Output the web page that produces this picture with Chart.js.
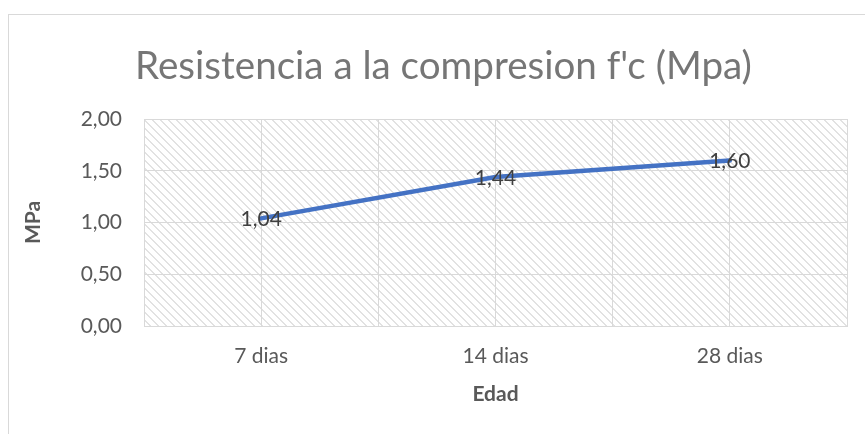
<!DOCTYPE html>
<html>
<head>
<meta charset="utf-8">
<script src="https://cdn.jsdelivr.net/npm/chart.js@4/dist/chart.umd.min.js"></script>
<style>
html,body{margin:0;padding:0;background:#fff;}
#wrap{width:865px;height:434px;position:relative;}
</style>
</head>
<body>
<div id="wrap"><canvas id="c" width="865" height="434"></canvas></div>
<script>
const categories = ['7 dias', '14 dias', '28 dias'];
const values = [1.04, 1.44, 1.60];
const yTicks = [0, 0.5, 1.0, 1.5, 2.0];
const titleText = "Resistencia a la compresion f'c (Mpa)";
const xTitle = 'Edad';
const yTitle = 'MPa';

const FONT = 'Lato, "Open Sans", sans-serif';
const fmt = v => v.toFixed(2).replace('.', ',');

function makePattern(ctx) {
  const t = document.createElement('canvas');
  t.width = 8; t.height = 8;
  const g = t.getContext('2d');
  g.fillStyle = '#ffffff';
  g.fillRect(0, 0, 8, 8);
  g.fillStyle = '#e2e2e2';
  for (let i = 0; i < 8; i++) {
    g.fillRect(i, i, 1, 1);
    g.fillRect((i + 1) % 8, i, 1, 1);
  }
  return ctx.createPattern(t, 'repeat');
}

const bgPlugin = {
  id: 'bg',
  beforeDraw(chart) {
    const {ctx, chartArea: a} = chart;
    ctx.save();
    ctx.fillStyle = '#fff';
    ctx.fillRect(0, 0, chart.width, chart.height);
    ctx.strokeStyle = '#d9d9d9';
    ctx.lineWidth = 1;
    ctx.strokeRect(8.5, 14.5, 1000, 1000);
    ctx.fillStyle = makePattern(ctx);
    ctx.fillRect(a.left, a.top, a.right - a.left, a.bottom - a.top);
    ctx.restore();
  }
};

const titlePlugin = {
  id: 'ctitle',
  afterDraw(chart) {
    const {ctx} = chart;
    ctx.save();
    let size = 37;
    ctx.font = '400 ' + size + 'px ' + FONT;
    const w = ctx.measureText(titleText).width;
    size = size * 617 / w;
    ctx.font = '400 ' + size.toFixed(2) + 'px ' + FONT;
    ctx.fillStyle = '#767676';
    ctx.textAlign = 'center';
    ctx.textBaseline = 'middle';
    ctx.fillText(titleText, 443.5, 67);
    ctx.restore();
  }
};

const labelPlugin = {
  id: 'dlabels',
  afterDatasetsDraw(chart) {
    const {ctx} = chart;
    const meta = chart.getDatasetMeta(0);
    ctx.save();
    ctx.font = '21px ' + FONT;
    ctx.fillStyle = '#404040';
    ctx.textAlign = 'center';
    ctx.textBaseline = 'middle';
    meta.data.forEach((pt, i) => {
      ctx.fillText(fmt(values[i]), pt.x, pt.y + 1);
    });
    ctx.restore();
  }
};

new Chart(document.getElementById('c'), {
  type: 'line',
  data: {
    datasets: [{
      data: categories.map((c, i) => ({x: i, y: values[i]})),
      borderColor: '#4472C4',
      borderWidth: 4.5,
      pointRadius: 0,
      tension: 0,
      fill: false,
      borderCapStyle: 'round'
    }]
  },
  options: {
    responsive: false,
    animation: false,
    layout: {padding: {left: 0, right: 14, top: 119, bottom: 0}},
    plugins: {
      legend: {display: false},
      tooltip: {enabled: false},
      title: {display: false}
    },
    scales: {
      x: {
        type: 'linear',
        min: -0.5,
        max: 2.5,
        afterBuildTicks(scale) {
          const t = [];
          for (let v = -0.5; v <= 2.5001; v += 0.5) t.push({value: v});
          scale.ticks = t;
        },
        afterFit(scale) { scale.height = 108; },
        ticks: {
          autoSkip: false,
          maxRotation: 0,
          padding: 18,
          color: '#595959',
          font: {family: FONT, size: 21},
          callback: (v) => Number.isInteger(v) ? categories[v] : ''
        },
        grid: {color: '#d9d9d9', lineWidth: 1, drawTicks: false},
        border: {color: '#d9d9d9'},
        title: {
          display: true,
          text: xTitle,
          color: '#595959',
          font: {family: FONT, size: 21, weight: 'bold'},
          padding: {top: 0, bottom: 27.4}
        }
      },
      y: {
        min: 0,
        max: 2,
        afterBuildTicks(scale) { scale.ticks = yTicks.map(v => ({value: v})); },
        afterFit(scale) { scale.width = 144; },
        ticks: {
          padding: 22,
          color: '#595959',
          font: {family: FONT, size: 21},
          callback: (v) => fmt(v)
        },
        grid: {color: '#d9d9d9', lineWidth: 1, drawTicks: false},
        border: {display: false},
        title: {
          display: true,
          text: yTitle,
          color: '#595959',
          font: {family: FONT, size: 21, weight: 'bold'},
          padding: {top: 20.4, bottom: 0}
        }
      }
    }
  },
  plugins: [bgPlugin, titlePlugin, labelPlugin]
});
</script>
</body>
</html>
